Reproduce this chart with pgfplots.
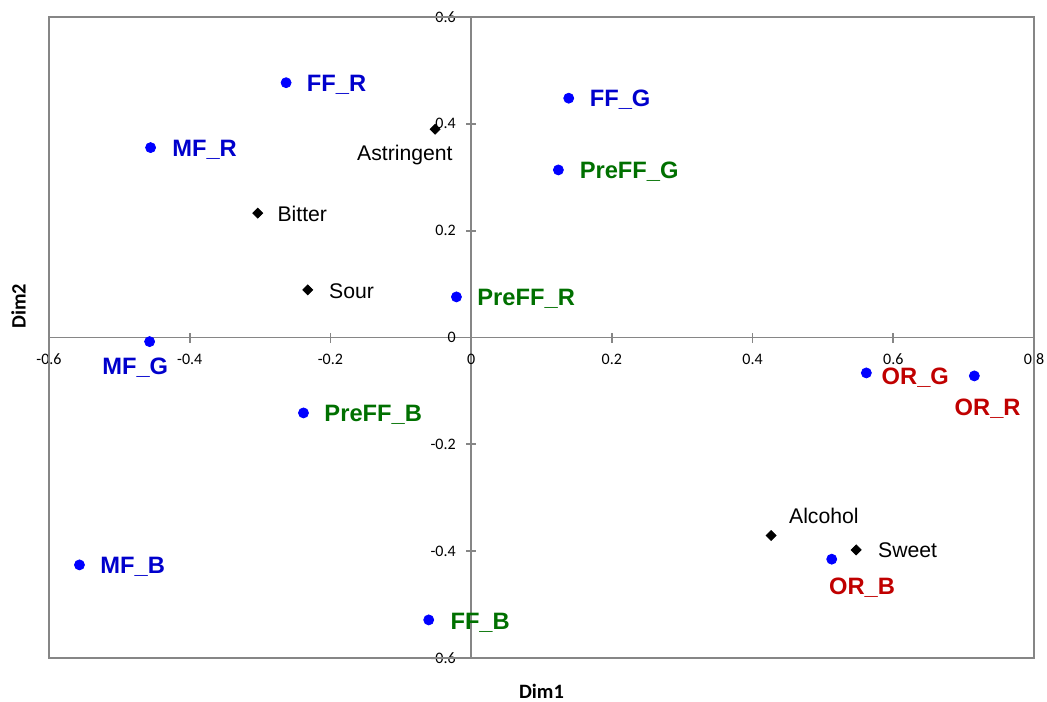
\documentclass[border=0pt]{standalone}
\usepackage{fontspec}
\setmainfont{Liberation Sans}
\newfontfamily\calibrifont{Carlito}
\usepackage{pgfplots}
\usepackage{pgfplotstable}
\pgfplotsset{compat=1.18}

\definecolor{ptblue}{RGB}{0,0,255}
\definecolor{lblblue}{RGB}{0,0,204}
\definecolor{lblgreen}{RGB}{0,112,0}
\definecolor{lblred}{RGB}{192,0,0}
\definecolor{axisgray}{RGB}{134,134,134}

% products (blue points); dx/dy = label offset in bp from the point (base west)
\pgfplotstableread{
x       y       dx      dy      label
-0.263  0.477   10.2    -4.2    FF\_R
-0.4556 0.3555  10.65   -4.6    MF\_R
0.1387  0.448   10.35   -4.2    FF\_G
-0.5567 -0.4257 10.3    -4.3    MF\_B
-0.457  -0.0077 -23.85  -16.65  MF\_G
}\blueprod

\pgfplotstableread{
x       y       dx      dy      label
0.124   0.3137  10.5    -4.5    PreFF\_G
-0.0209 0.076   10.3    -4.3    PreFF\_R
-0.2383 -0.1412 10.3    -4.3    PreFF\_B
-0.0603 -0.5287 10.7    -4.6    FF\_B
}\greenprod

\pgfplotstableread{
x       y       dx      dy      label
0.5617  -0.0663 7.5     -6.0    OR\_G
0.7152  -0.0719 -10.0   -19.85  OR\_R
0.5125  -0.415  -1.5    -17.85  OR\_B
}\redprod

% sensory attributes (black diamonds)
\pgfplotstableread{
x       y       dx      dy      label
-0.0512 0.390   -39.2   -15.85  Astringent
-0.3033 0.2327  9.7     -4.2    Bitter
-0.2322 0.0891  10.5    -4.5    Sour
0.4264  -0.3708 8.8     6.2     Alcohol
0.5472  -0.3976 10.8    -3.65   Sweet
}\attrib

\pgfplotsset{
  labelled/.style={
    only marks,
    point meta=explicit symbolic,
    visualization depends on={\thisrow{dx}\as\dx},
    visualization depends on={\thisrow{dy}\as\dy},
    nodes near coords,
    nodes near coords style={anchor=base west, inner sep=0pt,
      xshift={\dx*1bp}, yshift={\dy*1bp}, text=#1},
  },
  product/.style={
    labelled=#1,
    color=ptblue,
    mark=*, mark size=2.5bp, mark options={draw=none, fill=ptblue},
    nodes near coords style={font=\fontsize{11.85bp}{14bp}\selectfont\bfseries},
  },
}

\begin{document}
\begin{tikzpicture}
\begin{axis}[
  scale only axis,
  width=492.5bp, height=320.5bp,
  xmin=-0.6, xmax=0.8, ymin=-0.6, ymax=0.6,
  axis lines=middle,
  axis line style={-, axisgray, line width=0.9bp},
  xtick={-0.6,-0.4,-0.2,0,0.2,0.4,0.6,0.8},
  ytick={-0.6,-0.4,-0.2,0,0.2,0.4,0.6},
  tick style={axisgray, line width=0.9bp},
  major tick length=5bp, tick align=center,
  hide obscured x ticks=false, hide obscured y ticks=false,
  /pgf/number format/fixed, /pgf/number format/precision=1,
  /pgf/number format/assume math mode=true,
  ticklabel style={font=\calibrifont\fontsize{8bp}{9.6bp}\selectfont, text=black},
  xticklabel style={anchor=north, inner sep=0pt, yshift=-5.5bp},
  yticklabel style={anchor=east, inner sep=0pt, xshift=-5bp},
  xlabel={Dim1}, ylabel={Dim2},
  every axis x label/.style={at={(rel axis cs:0.5,0)}, anchor=base,
    yshift=-20.15bp, font=\calibrifont\bfseries\fontsize{10.2bp}{12bp}\selectfont},
  every axis y label/.style={at={(rel axis cs:0,0.549)}, xshift=-15.3bp,
    anchor=center, rotate=90, font=\calibrifont\bfseries\fontsize{10.2bp}{12bp}\selectfont},
  clip=false,
]
\draw[axisgray, line width=0.9bp] (rel axis cs:0,0) rectangle (rel axis cs:1,1);
\coordinate (bl) at (rel axis cs:0,0);
\coordinate (tr) at (rel axis cs:1,1);

\addplot[product=lblblue] table[meta=label] {\blueprod};
\addplot[product=lblgreen] table[meta=label] {\greenprod};
\addplot[product=lblred] table[meta=label] {\redprod};
\addplot[labelled=black, color=black, mark=square*, mark size=1.75bp,
  mark options={rotate=45, draw=none, fill=black},
  nodes near coords style={font=\fontsize{10.6bp}{12.5bp}\selectfont}]
  table[meta=label] {\attrib};
\end{axis}
\pgfresetboundingbox
\path[use as bounding box] ([shift={(-24.5bp,-22bp)}]bl) rectangle ([shift={(6.5bp,8.5bp)}]tr);
\end{tikzpicture}
\end{document}
